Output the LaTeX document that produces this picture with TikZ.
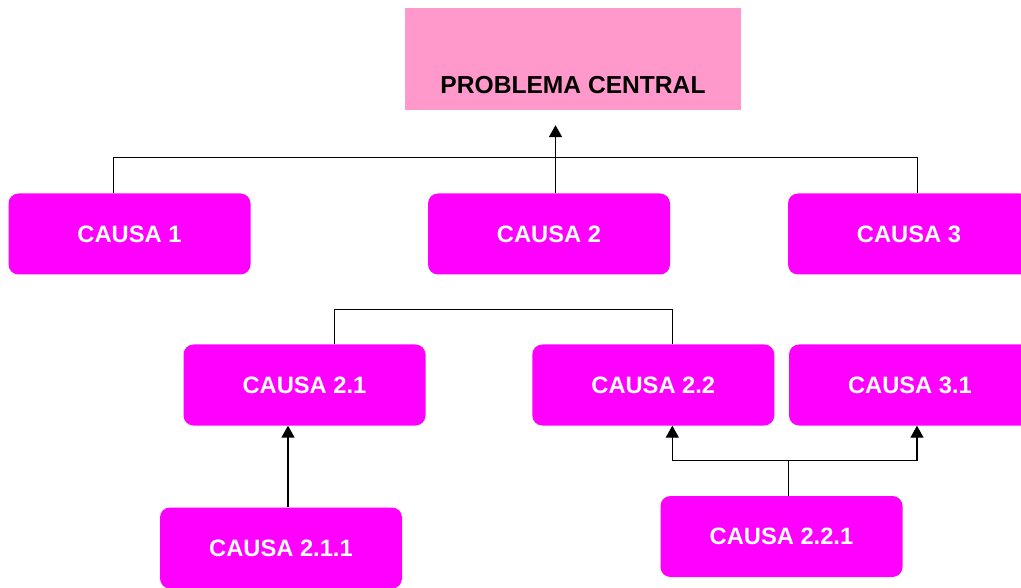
\documentclass[tikz,border=0pt]{standalone}
\usepackage{fontspec}
\setmainfont{Liberation Sans}
\usetikzlibrary{arrows.meta}
\definecolor{probpink}{HTML}{FF99CC}
\definecolor{causemag}{HTML}{FF00FF}

\begin{document}
\begin{tikzpicture}
[every node/.style={inner sep=0pt, font=\bfseries\fontsize{23.7pt}{28pt}\selectfont},
 cause/.style={rectangle, rounded corners=10pt, minimum width=242pt, minimum height=81pt, fill=causemag, text=white},
 problem/.style={rectangle, minimum width=336pt, text height=86pt, text depth=16pt, fill=probpink, text=black, font=\bfseries\fontsize{24.6pt}{28pt}\selectfont},
 link/.style={line width=1pt, color=black},
 uparrow/.style={line width=1.8pt, color=black, -{Triangle[width=13pt,length=12pt]}}]
\useasboundingbox (0pt, 0pt) rectangle (1021pt, -588pt);
\node (prob) [problem] at (573pt, -59pt) {PROBLEMA CENTRAL};
\node (c1) [cause] at (129.5pt, -234pt) {CAUSA 1};
\node (c2) [cause] at (549pt, -234pt) {CAUSA 2};
\node (c3) [cause] at (909pt, -234pt) {CAUSA 3};
\node (c21) [cause] at (304.5pt, -385pt) {CAUSA 2.1};
\node (c22) [cause] at (653.3pt, -385pt) {CAUSA 2.2};
\node (c31) [cause] at (910pt, -385pt) {CAUSA 3.1};
\node (c211) [cause] at (281pt, -548pt) {CAUSA 2.1.1};
\node (c221) [cause] at (781.5pt, -536.5pt) {CAUSA 2.2.1};
\draw [link] ([xshift=-16.5pt]c1.north) -- ++(0pt, 35.3pt) -| ([xshift=8pt]c3.north);
\draw [uparrow, shorten >=15pt] ([xshift=6.5pt]c2.north) -- ([xshift=6.5pt]c2.north |- prob.south);
\draw [link] ([xshift=30pt]c21.north) -- ++(0pt, 34.7pt) -| ([xshift=19pt]c22.north);
\draw [uparrow] ([xshift=7pt]c211.north) -- ([xshift=7pt]c211.north |- c21.south);
\coordinate (split) at ([xshift=7pt, yshift=35.5pt]c221.north);
\draw [link, line width=1.4pt] ([xshift=7pt]c221.north) -- (split);
\draw [uparrow, line width=1.4pt] (split) -| ([xshift=19pt]c22.south);
\draw [uparrow, line width=1.4pt] (split) -| ([xshift=7pt]c31.south);
\end{tikzpicture}
\end{document}
